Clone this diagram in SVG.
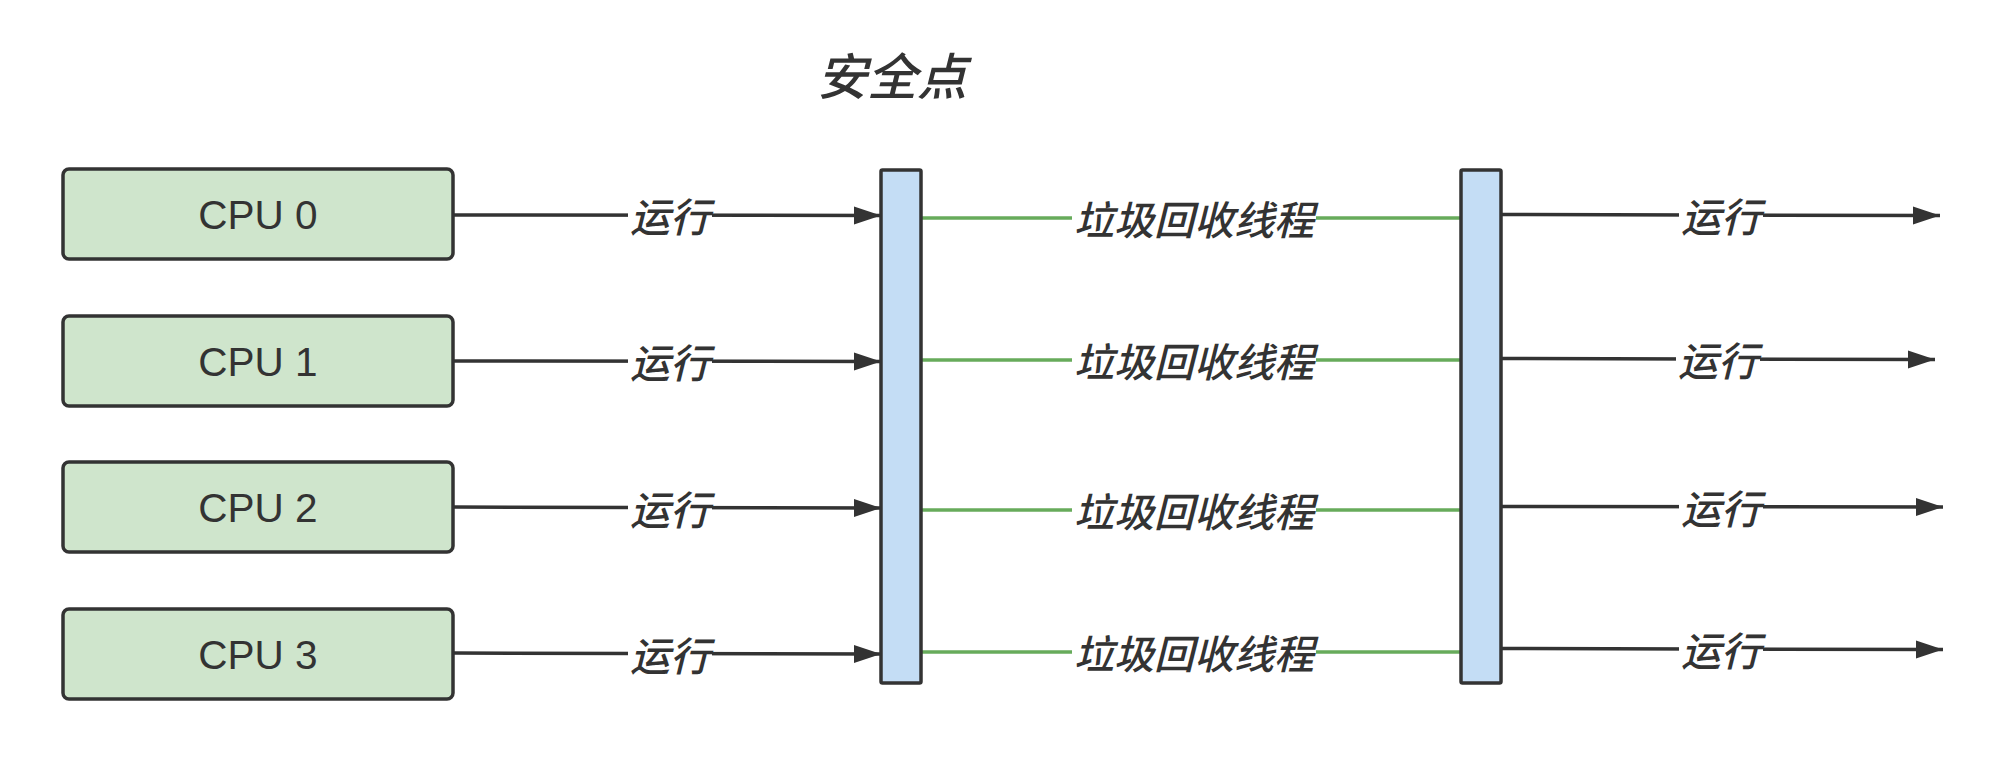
<svg xmlns="http://www.w3.org/2000/svg" width="2014" height="774" viewBox="0 0 2014 774">
<style>
.cpu{fill:#cfe5cc;stroke:#333;stroke-width:3.5}
.bar{fill:#c4ddf5;stroke:#333;stroke-width:3.5}
.cputxt{font-family:"Liberation Sans",Arial,sans-serif;font-size:40.5px;fill:#333;text-anchor:middle}
.lbl{font-family:"Noto Sans CJK SC","Noto Sans",sans-serif;font-size:40px;font-style:italic;font-weight:500;fill:#333;text-anchor:middle}
.title{font-family:"Noto Sans CJK SC","Noto Sans",sans-serif;font-size:50px;font-style:italic;font-weight:500;fill:#333;text-anchor:middle}
.arr{stroke:#333;stroke-width:3.5;fill:none;marker-end:url(#ah)}
.gc{stroke:#67ab5b;stroke-width:3.5;fill:none}
.bg{fill:#fff;stroke:none}
</style>
<defs>
<marker id="ah" markerUnits="userSpaceOnUse" markerWidth="28" markerHeight="20" refX="27" refY="10" orient="auto">
<path d="M0,1 L27,10 L0,19 z" fill="#333"/>
</marker>
</defs>
<rect width="2014" height="774" fill="#fff"/>
<text class="title" x="892" y="95">安全点</text>
<g id="connectors">
<line class="arr" x1="454" y1="215" x2="881" y2="215.5"/>
<line class="arr" x1="454" y1="361" x2="881" y2="361.5"/>
<line class="arr" x1="454" y1="507" x2="881" y2="508"/>
<line class="arr" x1="454" y1="653" x2="881" y2="654"/>
<line class="gc" x1="921" y1="218" x2="1460" y2="218"/>
<line class="gc" x1="921" y1="360" x2="1460" y2="360"/>
<line class="gc" x1="921" y1="510" x2="1460" y2="510"/>
<line class="gc" x1="921" y1="652" x2="1460" y2="652"/>
<line class="arr" x1="1501" y1="214.5" x2="1940" y2="215.5"/>
<line class="arr" x1="1501" y1="358.5" x2="1935" y2="359.5"/>
<line class="arr" x1="1501" y1="506.5" x2="1943" y2="507"/>
<line class="arr" x1="1501" y1="648.5" x2="1943" y2="649.5"/>
<g id="labels">
<rect class="bg" x="628" y="196" width="84" height="40"/><text class="lbl" x="670" y="232">运行</text>
<rect class="bg" x="628" y="342" width="84" height="40"/><text class="lbl" x="670" y="378">运行</text>
<rect class="bg" x="628" y="489" width="84" height="40"/><text class="lbl" x="670" y="525">运行</text>
<rect class="bg" x="628" y="635" width="84" height="40"/><text class="lbl" x="670" y="671">运行</text>
<rect class="bg" x="1072" y="199" width="244" height="40"/><text class="lbl" x="1194" y="235">垃圾回收线程</text>
<rect class="bg" x="1072" y="341" width="244" height="40"/><text class="lbl" x="1194" y="377">垃圾回收线程</text>
<rect class="bg" x="1072" y="491" width="244" height="40"/><text class="lbl" x="1194" y="527">垃圾回收线程</text>
<rect class="bg" x="1072" y="633" width="244" height="40"/><text class="lbl" x="1194" y="669">垃圾回收线程</text>
<rect class="bg" x="1679" y="196" width="84" height="40"/><text class="lbl" x="1721" y="232">运行</text>
<rect class="bg" x="1676" y="340" width="84" height="40"/><text class="lbl" x="1718" y="376">运行</text>
<rect class="bg" x="1679" y="488" width="84" height="40"/><text class="lbl" x="1721" y="524">运行</text>
<rect class="bg" x="1679" y="630" width="84" height="40"/><text class="lbl" x="1721" y="666">运行</text>
</g>
</g>
<g id="cpu0"><rect class="cpu" x="63" y="169" width="390" height="90" rx="6"/><text class="cputxt" x="258" y="229">CPU 0</text></g>
<g id="cpu1"><rect class="cpu" x="63" y="316" width="390" height="90" rx="6"/><text class="cputxt" x="258" y="376">CPU 1</text></g>
<g id="cpu2"><rect class="cpu" x="63" y="462" width="390" height="90" rx="6"/><text class="cputxt" x="258" y="522">CPU 2</text></g>
<g id="cpu3"><rect class="cpu" x="63" y="609" width="390" height="90" rx="6"/><text class="cputxt" x="258" y="669">CPU 3</text></g>
<g id="safepoint1"><rect class="bar" x="881" y="170" width="40" height="513" rx="1.5"/></g>
<g id="safepoint2"><rect class="bar" x="1461" y="170" width="40" height="513" rx="1.5"/></g>
</svg>
